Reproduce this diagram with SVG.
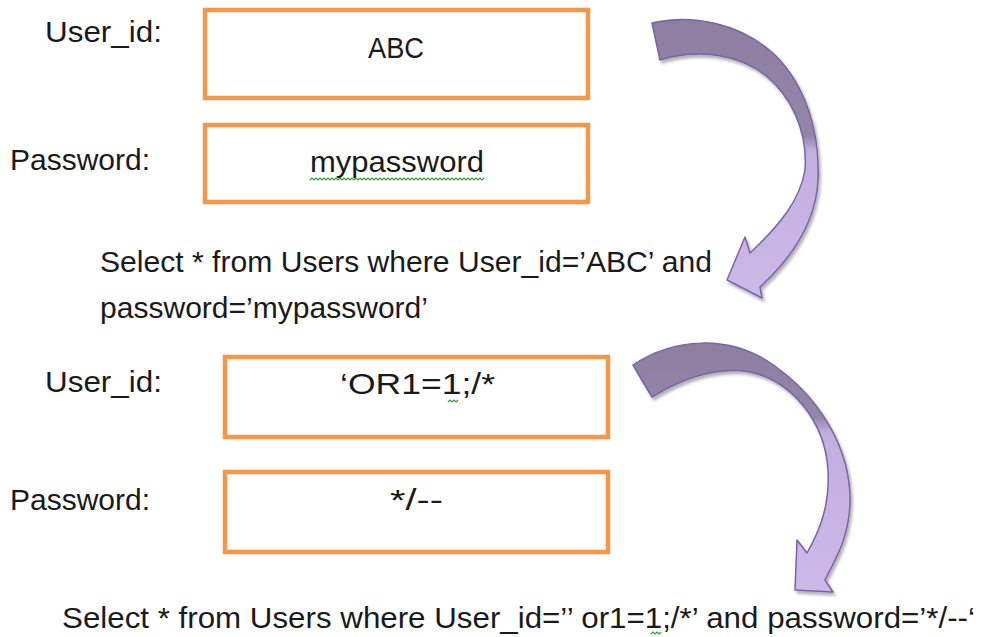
<svg xmlns="http://www.w3.org/2000/svg" width="981" height="637" viewBox="0 0 981 637">
<style>
.box{fill:#ffffff;stroke:#F79646;stroke-width:4.5}
.t{font-family:"Liberation Sans",Arial,sans-serif;font-size:30px;fill:#1a1a1a}
.arrow{stroke:#7A63A6;stroke-width:1.5;stroke-linejoin:round}
.sq{fill:none;stroke:#2E9E2E;stroke-width:1.2}
</style>
<defs>
<linearGradient id="g1" x1="0" y1="0" x2="0" y2="1">
<stop offset="0" stop-color="#8E7FA2"/>
<stop offset="0.42" stop-color="#9486A8"/>
<stop offset="0.47" stop-color="#C3AEE0"/>
<stop offset="1" stop-color="#CDB9E8"/>
</linearGradient>
<linearGradient id="g2" x1="0" y1="0" x2="0" y2="1">
<stop offset="0" stop-color="#8E7FA2"/>
<stop offset="0.30" stop-color="#9486A8"/>
<stop offset="0.36" stop-color="#C3AEE0"/>
<stop offset="1" stop-color="#CDB9E8"/>
</linearGradient>
<filter id="sh" x="-20%" y="-20%" width="140%" height="140%">
<feDropShadow dx="2" dy="3" stdDeviation="1.5" flood-color="#000" flood-opacity="0.3"/>
</filter>
</defs>
<rect width="981" height="637" fill="#ffffff"/>

<g id="login1">
<text class="t" x="45" y="42" textLength="117" lengthAdjust="spacingAndGlyphs">User_id:</text>
<g id="box-userid1">
<rect class="box" x="205" y="10" width="383" height="88"/>
<text class="t" x="368" y="58" textLength="56" lengthAdjust="spacingAndGlyphs">ABC</text>
</g>
<text class="t" x="10" y="170" textLength="140" lengthAdjust="spacingAndGlyphs">Password:</text>
<g id="box-password1">
<rect class="box" x="205" y="125" width="383" height="77"/>
<text class="t" x="310" y="172" textLength="174" lengthAdjust="spacingAndGlyphs">mypassword</text>
<polyline class="sq" points="310,180 312,178 314,180 316,178 318,180 320,178 322,180 324,178 326,180 328,178 330,180 332,178 334,180 336,178 338,180 340,178 342,180 344,178 346,180 348,178 350,180 352,178 354,180 356,178 358,180 360,178 362,180 364,178 366,180 368,178 370,180 372,178 374,180 376,178 378,180 380,178 382,180 384,178 386,180 388,178 390,180 392,178 394,180 396,178 398,180 400,178 402,180 404,178 406,180 408,178 410,180 412,178 414,180 416,178 418,180 420,178 422,180 424,178 426,180 428,178 430,180 432,178 434,180 436,178 438,180 440,178 442,180 444,178 446,180 448,178 450,180 452,178 454,180 456,178 458,180 460,178 462,180 464,178 466,180 468,178 470,180 472,178 474,180 476,178 478,180 480,178 482,180 484,178"/>
</g>
</g>

<g id="query1">
<text class="t" x="100" y="272" textLength="612" lengthAdjust="spacingAndGlyphs">Select * from Users where User_id=’ABC’ and</text>
<text class="t" x="100" y="318" textLength="328" lengthAdjust="spacingAndGlyphs">password=’mypassword’</text>
</g>

<g id="login2">
<text class="t" x="45" y="392" textLength="117" lengthAdjust="spacingAndGlyphs">User_id:</text>
<g id="box-userid2">
<rect class="box" x="225" y="357" width="383" height="80"/>
<text class="t" x="340" y="394" textLength="155" lengthAdjust="spacingAndGlyphs">‘OR1=1;/*</text>
<polyline class="sq" points="448,402 450,400 452,402 454,400 456,402 458,400"/>
</g>
<text class="t" x="10" y="510" textLength="140" lengthAdjust="spacingAndGlyphs">Password:</text>
<g id="box-password2">
<rect class="box" x="225" y="472" width="383" height="80"/>
<text class="t" x="390" y="510" textLength="53" lengthAdjust="spacingAndGlyphs">*/--</text>
</g>
</g>

<g id="query2">
<text class="t" x="62" y="628" textLength="913" lengthAdjust="spacingAndGlyphs">Select * from Users where User_id=’’ or1=1;/*’ and password=’*/--‘</text>
<polyline class="sq" points="651,634 653,632 655,634 657,632 659,634 661,632"/>
</g>

<g id="connectors">
<path id="arrow1" class="arrow" fill="url(#g1)" filter="url(#sh)" d="M652,23 C690,14 740,22 775,55 C805,85 820,130 818,180 C816,220 795,255 760,287 L762,298 L727,280 L745,237 L750,253 C780,225 800,200 805,170 C808,130 790,95 765,75 C740,55 700,48 660,60 Z"/>
<path id="arrow2" class="arrow" fill="url(#g2)" filter="url(#sh)" d="M633,365 C670,340 730,330 780,370 C820,400 852,450 850,505 C848,540 835,560 825,580 L833,592 L795,590 L797,540 L807,553 C820,530 830,505 828,470 C825,420 790,380 750,372 C715,366 680,380 652,397 Z"/>
</g>
</svg>
